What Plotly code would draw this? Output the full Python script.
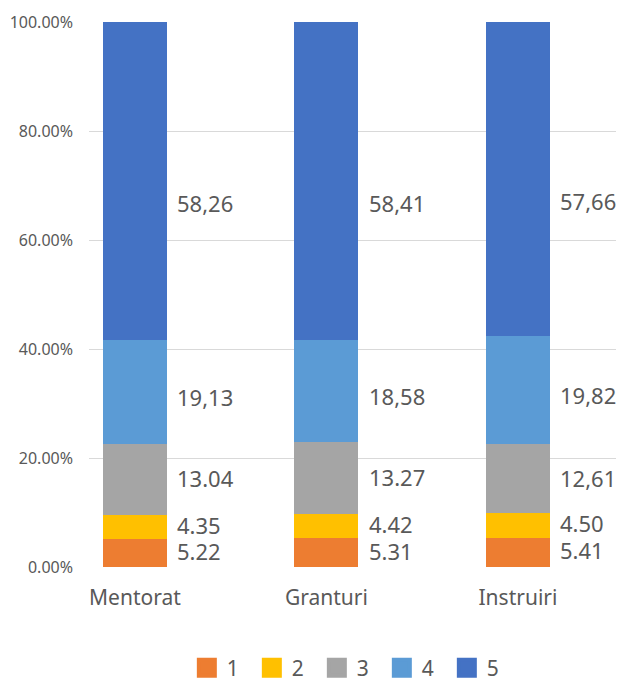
import plotly.graph_objects as go

categories = ["Mentorat", "Granturi", "Instruiri"]
series_names = ["1", "2", "3", "4", "5"]
s1 = [5.22, 5.31, 5.41]
s2 = [4.35, 4.42, 4.50]
s3 = [13.04, 13.27, 12.61]
s4 = [19.13, 18.58, 19.82]
s5 = [58.26, 58.41, 57.66]
label_s1 = ["5.22", "5.31", "5.41"]
label_s2 = ["4.35", "4.42", "4.50"]
label_s3 = ["13.04", "13.27", "12,61"]
label_s4 = ["19,13", "18,58", "19,82"]
label_s5 = ["58,26", "58,41", "57,66"]
y_ticks = [0, 20, 40, 60, 80, 100]
y_ticktext = ["0.00%", "20.00%", "40.00%", "60.00%", "80.00%", "100.00%"]

series = [s1, s2, s3, s4, s5]
labels = [label_s1, label_s2, label_s3, label_s4, label_s5]
colors = ["#ED7D31", "#FFC000", "#A5A5A5", "#5B9BD5", "#4472C4"]
label_yshift = [2, 2, 1, -5, -22]
FONT = "Noto Sans"
TXT = "#595959"

xpos = list(range(len(categories)))
fig = go.Figure()
for name, vals, col in zip(series_names, series, colors):
    fig.add_trace(go.Bar(x=xpos, y=vals, name=name, marker=dict(color=col, line=dict(width=0)),
                         width=0.334, showlegend=False, hoverinfo="skip"))
for name, col in zip(series_names, colors):
    fig.add_trace(go.Scatter(x=[None], y=[None], mode="markers", name=name,
                             marker=dict(symbol="square", size=16, color=col,
                                         line=dict(color=col, width=4))))

annotations = []
for i in xpos:
    total = sum(s[i] for s in series)
    cum = 0
    for k, s in enumerate(series):
        mid = (cum + s[i] / 2) / total * 100
        cum += s[i]
        annotations.append(dict(x=i + 0.215, y=mid, xref="x", yref="y", text=labels[k][i],
                                showarrow=False, xanchor="left", yanchor="middle",
                                yshift=label_yshift[k], borderpad=0,
                                font=dict(family=FONT, size=22, color=TXT)))

fig.update_layout(
    barmode="stack", barnorm="percent",
    width=619, height=681,
    margin=dict(l=89, r=3, t=22, b=114, autoexpand=False),
    paper_bgcolor="white", plot_bgcolor="white",
    font=dict(family=FONT, color=TXT),
    annotations=annotations,
    xaxis=dict(range=[-0.24, 2.512], tickvals=xpos, ticktext=categories,
               showgrid=False, zeroline=False, showline=False, ticks="", automargin=False,
               tickfont=dict(size=21, color=TXT), ticklabelstandoff=16),
    yaxis=dict(range=[0, 100], tickvals=y_ticks, ticktext=y_ticktext,
               showgrid=True, gridcolor="#D9D9D9", gridwidth=1, zeroline=False,
               showline=False, ticks="", automargin=False, tickfont=dict(size=16, color=TXT),
               ticklabelstandoff=15),
    legend=dict(orientation="h", x=0.494, xanchor="center", y=-0.1855, yanchor="middle",
                font=dict(size=21, color=TXT), itemsizing="trace", traceorder="normal",
                entrywidth=20, entrywidthmode="pixels", bgcolor="rgba(0,0,0,0)"),
    showlegend=True,
)
fig.write_html("out.html", config={"displayModeBar": False},
               post_script="document.body.style.margin='0';document.body.style.overflow='hidden';")
